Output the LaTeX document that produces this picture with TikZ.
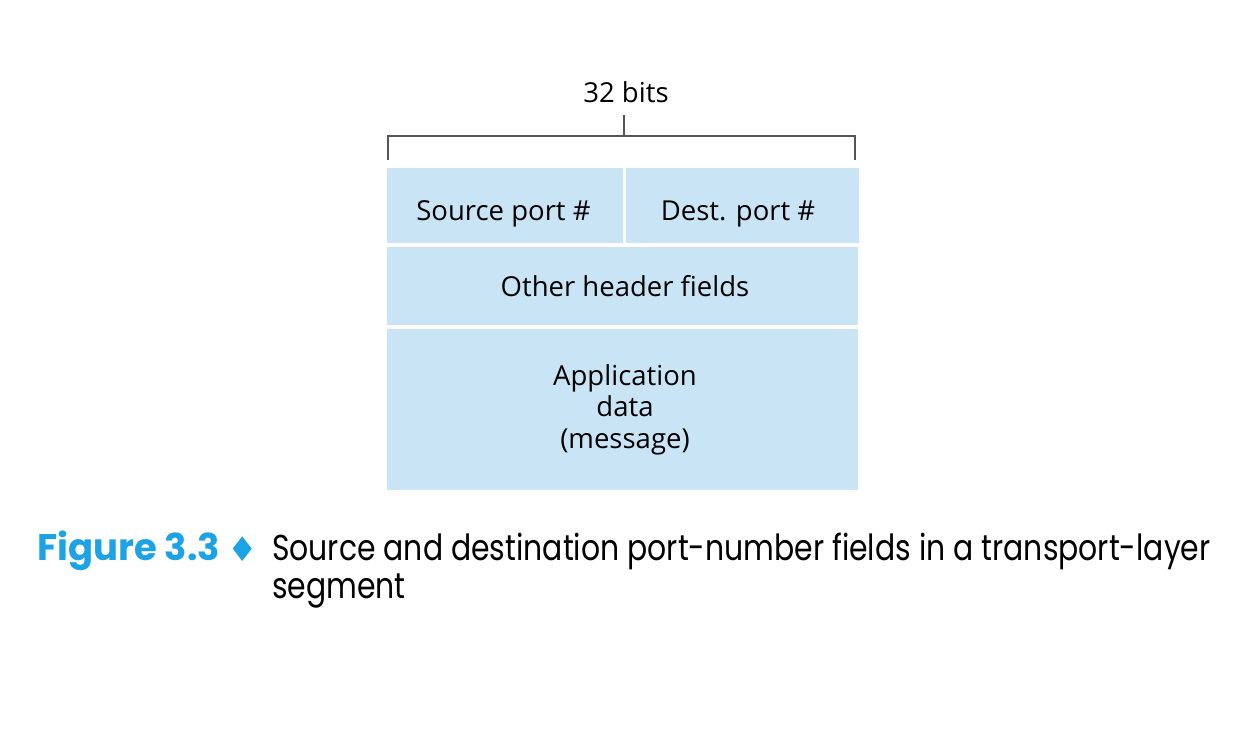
\documentclass[tikz,border=0pt]{standalone}
\usepackage{fontspec}
\setmainfont{Open Sans}
\newfontfamily\capfont[FakeStretch=0.83]{Poppins}
\newfontfamily\figfont{Poppins}
\newfontfamily\symfont{DejaVu Sans}
\definecolor{cellblue}{HTML}{C9E5F5}
\definecolor{figblue}{HTML}{1BA3E6}
\definecolor{linegray}{HTML}{555555}
\begin{document}
\begin{tikzpicture}[x=1pt,y=-1pt,
  cell/.style={fill=cellblue,draw=none,inner sep=0pt,anchor=north west},
  bracketline/.style={draw=linegray,line width=1.5pt},
  lbl/.style={inner sep=0pt,anchor=base,align=center,font=\fontsize{27.5}{31.5}\selectfont}]
\useasboundingbox[fill=white] (0,0) rectangle (1233,732);
% cells
\node[cell,minimum width=235.5pt,minimum height=74.5pt] (src) at (387,168) {};
\node[cell,minimum width=232.5pt,minimum height=74.5pt] (dst) at (626,168) {};
\node[cell,minimum width=471pt,minimum height=78pt] (other) at (387,246.5) {};
\node[cell,minimum width=471pt,minimum height=161pt] (app) at (387,328.5) {};
% labels
\node[lbl] (srcl) at (503.5,220) {Source port \#};
\node[lbl] (dstl) at (738,220) {Dest. port \#};
\node[lbl] (otherl) at (625,296.7) {Other header fields};
\node[lbl] (appl) at (625,448) {Application\\data\\(message)};
% bracket
\coordinate (bl) at (388,159.5);
\coordinate (tl) at (388,136);
\coordinate (tr) at (855,136);
\coordinate (br) at (855,159.5);
\coordinate (tickbot) at (624,136);
\coordinate (ticktop) at (624,115);
\draw[bracketline] (bl) -- (tl) -- (tr) -- (br);
\draw[bracketline] (tickbot) -- (ticktop);
\node[lbl] (bits) at (626,102) {32 bits};
% caption
\node[inner sep=0pt,anchor=base west,text=figblue,font=\figfont\bfseries\fontsize{37}{40}\selectfont] (fig) at (37,560) {Figure 3.3};
\node[inner sep=0pt,anchor=center,text=figblue,font=\symfont\fontsize{34}{40}\selectfont] (dia) at (243,549) {♦};
\node[inner sep=0pt,anchor=base west,align=left,font=\capfont\fontsize{36}{38}\selectfont] (cap) at (272,598) {Source and destination port-number fields in a transport-layer\\segment};
\end{tikzpicture}
\end{document}
